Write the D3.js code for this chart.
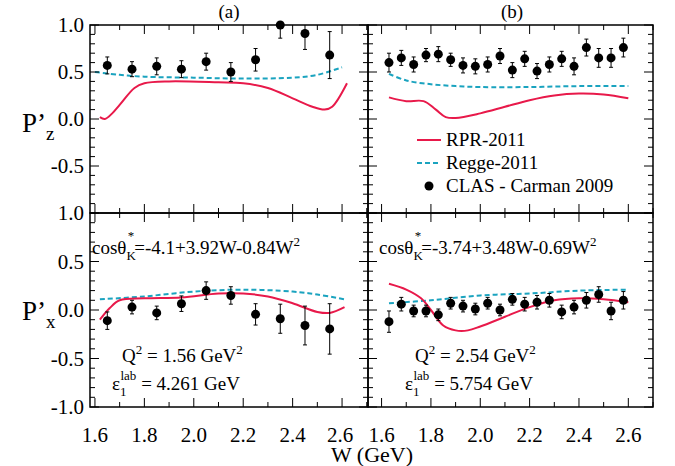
<!DOCTYPE html>
<html><head><meta charset="utf-8">
<script src="https://cdn.jsdelivr.net/npm/d3@7"></script>
<style>body{margin:0;background:#fff} svg text{font-family:"Liberation Serif","DejaVu Serif","Times New Roman",Times,serif !important}</style>
</head><body>
<svg id="chart" width="675" height="466"></svg>
<script>
// ---- data ----
var wA = [1.65,1.75,1.85,1.95,2.05,2.15,2.25,2.35,2.45,2.55];
var wB = [1.63,1.68,1.73,1.78,1.83,1.88,1.93,1.98,2.03,2.08,2.13,2.18,2.23,2.28,2.33,2.38,2.43,2.48,2.53,2.58];

var pzA = [0.57,0.53,0.56,0.53,0.61,0.50,0.63,1.00,0.91,0.68];
var pzAErr = [0.09,0.08,0.09,0.09,0.09,0.10,0.12,0.14,0.17,0.25];
var pxA = [-0.11,0.03,-0.03,0.065,0.20,0.15,-0.045,-0.09,-0.16,-0.195];
var pxAErr = [0.09,0.07,0.07,0.08,0.09,0.09,0.11,0.15,0.20,0.26];

var pzB = [0.60,0.65,0.58,0.68,0.69,0.63,0.57,0.56,0.58,0.67,0.52,0.64,0.51,0.58,0.64,0.56,0.76,0.65,0.65,0.76];
var pzBErr = [0.10,0.08,0.08,0.07,0.08,0.07,0.08,0.08,0.08,0.08,0.08,0.08,0.08,0.08,0.08,0.09,0.09,0.10,0.10,0.10];
var pxB = [-0.12,0.06,-0.01,-0.01,-0.05,0.07,0.04,0.01,0.07,0.00,0.11,0.06,0.08,0.10,-0.02,0.03,0.10,0.16,-0.01,0.10];
var pxBErr = [0.11,0.07,0.06,0.06,0.06,0.06,0.06,0.06,0.06,0.06,0.06,0.07,0.07,0.07,0.07,0.07,0.08,0.08,0.09,0.09];

var rprZA = [[1.62,0.02],[1.64,0.0],[1.67,0.06],[1.7,0.15],[1.76,0.33],[1.8,0.38],[1.9,0.40],[2.1,0.39],[2.2,0.38],[2.3,0.33],[2.4,0.22],[2.48,0.13],[2.53,0.10],[2.56,0.13],[2.62,0.38]];
var reggeZA = [[1.6,0.50],[1.7,0.47],[1.8,0.45],[2.0,0.44],[2.2,0.43],[2.4,0.44],[2.5,0.47],[2.6,0.55]];
var rprZB = [[1.63,0.23],[1.7,0.19],[1.77,0.19],[1.82,0.10],[1.86,0.02],[1.9,0.01],[2.0,0.06],[2.1,0.13],[2.2,0.20],[2.3,0.25],[2.4,0.27],[2.5,0.26],[2.6,0.22]];
var reggeZB = [[1.63,0.48],[1.7,0.41],[1.8,0.37],[1.9,0.35],[2.0,0.34],[2.2,0.34],[2.4,0.35],[2.6,0.35]];
var rprXA = [[1.62,-0.10],[1.66,0.02],[1.7,0.10],[1.8,0.12],[1.95,0.13],[2.1,0.17],[2.2,0.17],[2.3,0.14],[2.4,0.07],[2.5,-0.02],[2.55,-0.03],[2.61,0.03]];
var reggeXA = [[1.62,0.11],[1.8,0.14],[2.0,0.19],[2.2,0.21],[2.4,0.19],[2.5,0.16],[2.61,0.11]];
var rprXB = [[1.63,0.27],[1.7,0.21],[1.76,0.12],[1.8,0.0],[1.85,-0.16],[1.9,-0.21],[1.95,-0.21],[2.0,-0.17],[2.1,-0.07],[2.2,0.03],[2.3,0.10],[2.4,0.12],[2.5,0.11],[2.6,0.08]];
var reggeXB = [[1.63,0.07],[1.8,0.10],[2.0,0.15],[2.2,0.17],[2.4,0.20],[2.6,0.21]];

var xTicks = [1.6,1.8,2.0,2.2,2.4,2.6];
var yTicks = [-1.0,-0.5,0.0,0.5,1.0];

var svg = d3.select("#chart");
var red = "#e8194a", cyan = "#1aa3bf";

var panels = [
  {x0:90, x1:368, y0:25, y1:213, dom:[1.58,2.705], w:wA, v:pzA, e:pzAErr, rpr:rprZA, reg:reggeZA, left:true, top:true},
  {x0:368, x1:653, y0:25, y1:213, dom:[1.545,2.70], w:wB, v:pzB, e:pzBErr, rpr:rprZB, reg:reggeZB, left:false, top:true},
  {x0:90, x1:368, y0:213, y1:407, dom:[1.58,2.705], w:wA, v:pxA, e:pxAErr, rpr:rprXA, reg:reggeXA, left:true, top:false},
  {x0:368, x1:653, y0:213, y1:407, dom:[1.545,2.70], w:wB, v:pxB, e:pxBErr, rpr:rprXB, reg:reggeXB, left:false, top:false}
];

panels.forEach(function(p){
  var x = d3.scaleLinear().domain(p.dom).range([p.x0,p.x1]);
  var y = d3.scaleLinear().domain([-1,1]).range([p.y1,p.y0]);
  var g = svg.append("g");
  var lineFn = d3.line().x(d=>x(d[0])).y(d=>y(d[1])).curve(d3.curveCatmullRom);

  g.append("path").attr("d",lineFn(p.reg)).attr("fill","none").attr("stroke",cyan).attr("stroke-width",2).attr("stroke-dasharray","5,3");
  g.append("path").attr("d",lineFn(p.rpr)).attr("fill","none").attr("stroke",red).attr("stroke-width",2);

  p.w.forEach(function(w,i){
    g.append("line").attr("x1",x(w)).attr("x2",x(w)).attr("y1",y(Math.min(1,p.v[i]+p.e[i]))).attr("y2",y(p.v[i]-p.e[i])).attr("stroke","#000").attr("stroke-width",1);
    [p.v[i]+p.e[i],p.v[i]-p.e[i]].forEach(function(t){ if(t<=1) g.append("line").attr("x1",x(w)-2).attr("x2",x(w)+2).attr("y1",y(t)).attr("y2",y(t)).attr("stroke","#000"); });
    g.append("circle").attr("cx",x(w)).attr("cy",y(p.v[i])).attr("r",4.5).attr("fill","#000");
  });

  // ticks
  d3.range(-1,1.001,0.1).forEach(function(t){
    var major = Math.abs(Math.round(t*10)%5)===0, L = major?9:5;
    g.append("line").attr("x1",p.x0).attr("x2",p.x0+L).attr("y1",y(t)).attr("y2",y(t)).attr("stroke","#000");
    g.append("line").attr("x1",p.x1).attr("x2",p.x1-L).attr("y1",y(t)).attr("y2",y(t)).attr("stroke","#000");
  });
  d3.range(1.5,2.71,0.1).forEach(function(t){
    if (t < p.dom[0] || t > p.dom[1]) return;
    var major = Math.round(t*10)%2===0, L = major?9:5;
    g.append("line").attr("x1",x(t)).attr("x2",x(t)).attr("y1",p.y1).attr("y2",p.y1-L).attr("stroke","#000");
    g.append("line").attr("x1",x(t)).attr("x2",x(t)).attr("y1",p.y0).attr("y2",p.y0+L).attr("stroke","#000");
  });
  g.append("rect").attr("x",p.x0).attr("y",p.y0).attr("width",p.x1-p.x0).attr("height",p.y1-p.y0).attr("fill","none").attr("stroke","#000").attr("stroke-width",1.5);

  if (p.left) {
    yTicks.forEach(function(t){
      if (p.top && t===-1.0) return;
      g.append("text").attr("x",p.x0-6).attr("y",y(t)+7).attr("text-anchor","end").attr("font-size",21).text(t.toFixed(1));
    });
  }
  if (!p.top) {
    xTicks.forEach(function(t){
      g.append("text").attr("x",x(t) - (p.left && t===2.6 ? 2 : 0)).attr("y",442).attr("text-anchor","middle").attr("font-size",21).text(t.toFixed(1));
    });
  }
});

// labels
svg.append("text").attr("x",229).attr("y",18).attr("text-anchor","middle").attr("font-size",19).text("(a)");
svg.append("text").attr("x",512).attr("y",18).attr("text-anchor","middle").attr("font-size",19).text("(b)");
svg.append("text").attr("x",372).attr("y",462).attr("text-anchor","middle").attr("font-size",22).text("W (GeV)");

function ylab(yy, sub){
  var t = svg.append("text").attr("x",22).attr("y",yy).attr("font-size",27);
  t.append("tspan").text("P’");
  t.append("tspan").attr("dy",8).attr("font-size",19).text(sub);
}
ylab(132,"z"); ylab(320,"x");

// legend
var lg = svg.append("g");
var leg = [["RPR-2011",red,null],["Regge-2011",cyan,"5,3"],["CLAS - Carman 2009",null,null]];
leg.forEach(function(d,i){
  var yy = 140 + i*23;
  if (d[1]) lg.append("line").attr("x1",417).attr("x2",441).attr("y1",yy).attr("y2",yy).attr("stroke",d[1]).attr("stroke-width",2).attr("stroke-dasharray",d[2]);
  else lg.append("circle").attr("cx",429).attr("cy",yy).attr("r",4.5).attr("fill","#000");
  lg.append("text").attr("x",446).attr("y",yy+6).attr("font-size",19).text(d[0]);
});

function formula(x0, txt){
  var t = svg.append("text").attr("x",x0).attr("y",254).attr("font-size",19);
  t.append("tspan").text("cosθ");
  t.append("tspan").attr("dy",6).attr("font-size",13).text("K");
  t.append("tspan").attr("dy",-20).attr("dx",-8).attr("font-size",13).text("*");
  t.append("tspan").attr("dy",14).attr("font-size",19).text(txt);
  t.append("tspan").attr("dy",-8).attr("font-size",13).text("2");
}
formula(92, "=-4.1+3.92W-0.84W");
formula(379, "=-3.74+3.48W-0.69W");

function kin(x0, q, e){
  var t = svg.append("text").attr("x",x0+10).attr("y",362).attr("font-size",19);
  t.append("tspan").text("Q");
  t.append("tspan").attr("dy",-8).attr("font-size",13).text("2");
  t.append("tspan").attr("dy",8).attr("font-size",19).text(" = " + q + " GeV");
  t.append("tspan").attr("dy",-8).attr("font-size",13).text("2");
  var s = svg.append("text").attr("x",x0).attr("y",390).attr("font-size",19);
  s.append("tspan").text("ε");
  s.append("tspan").attr("dy",6).attr("font-size",13).text("1");
  s.append("tspan").attr("dy",-16).attr("dx",-6).attr("font-size",13).text("lab");
  s.append("tspan").attr("dy",10).attr("font-size",19).text(" = " + e + " GeV");
}
kin(112,"1.56","4.261");
kin(405,"2.54","5.754");
</script>
</body></html>
